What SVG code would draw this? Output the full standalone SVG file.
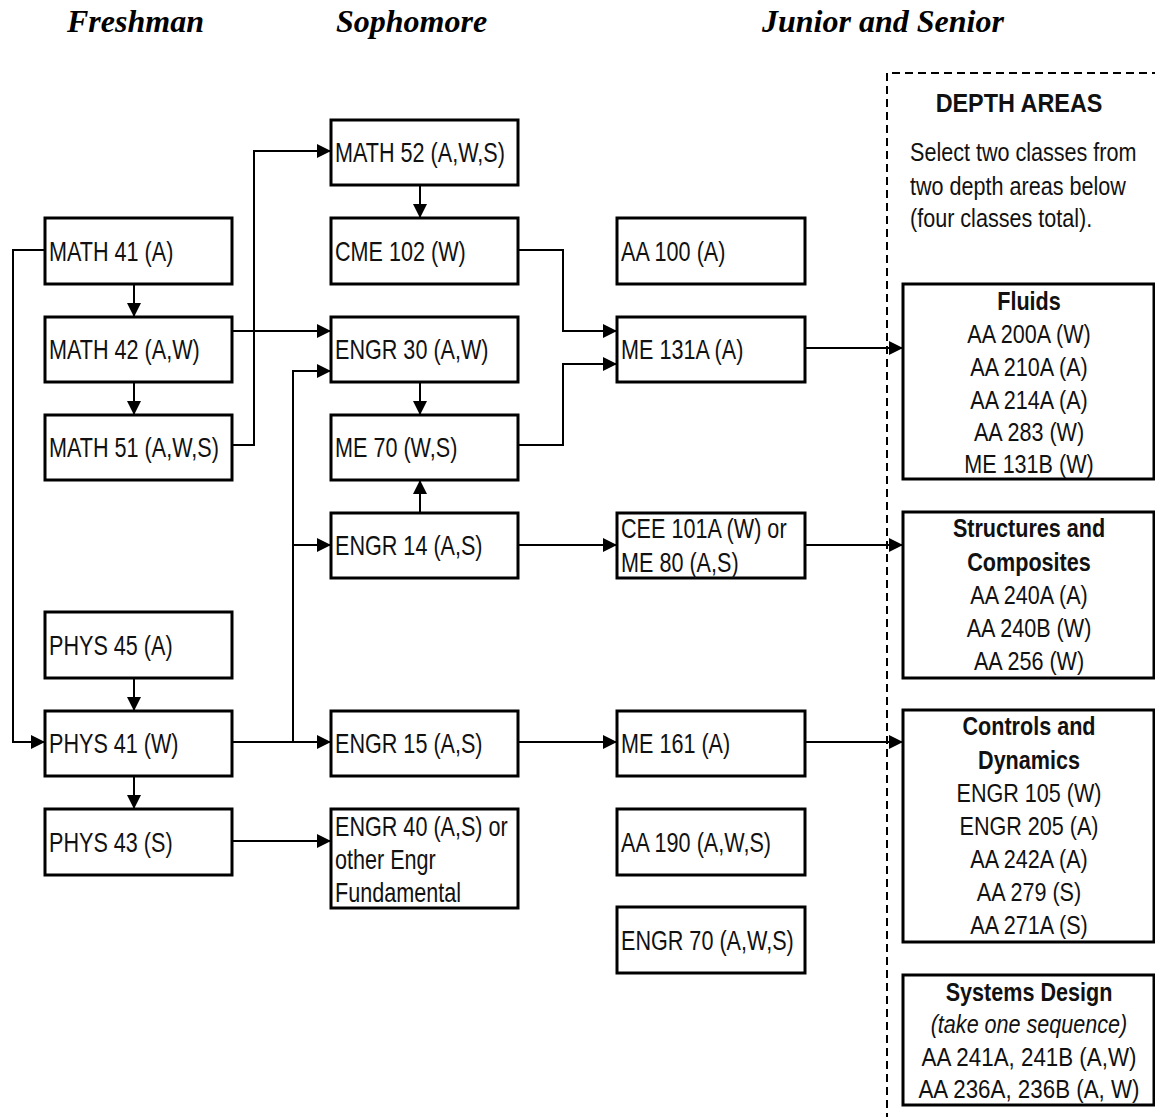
<svg xmlns="http://www.w3.org/2000/svg" width="1155" height="1117" viewBox="0 0 1155 1117">
<style>
.box{fill:#fff;stroke:#000;stroke-width:3}
.c{fill:none;stroke:#000;stroke-width:2}
.t{font-family:"Liberation Sans",Arial,sans-serif;font-size:27px;fill:#111}
.r{font-family:"Liberation Sans",Arial,sans-serif;font-size:26px;fill:#111;text-anchor:middle}
.l{text-anchor:start}
.b{font-weight:bold}
.i{font-style:italic}
.h{font-family:"Liberation Serif","Times New Roman",serif;font-size:32px;font-weight:bold;font-style:italic;fill:#000}
</style>
<defs>
<marker id="ah" markerUnits="userSpaceOnUse" markerWidth="15" markerHeight="14" refX="14" refY="7" orient="auto">
<path d="M0,0 L14,7 L0,14 z" fill="#000"/>
</marker>
</defs>
<rect width="1155" height="1117" fill="#fff"/>

<g id="headers">
<text class="h" x="67" y="32">Freshman</text>
<text class="h" x="336" y="32">Sophomore</text>
<text class="h" x="762" y="32">Junior and Senior</text>
</g>

<g id="connectors">
<path class="c" d="M45,250 H13 V742 H45" marker-end="url(#ah)"/>
<path class="c" d="M134,284 V317" marker-end="url(#ah)"/>
<path class="c" d="M134,382 V415" marker-end="url(#ah)"/>
<path class="c" d="M232,445 H254 V151 H331" marker-end="url(#ah)"/>
<path class="c" d="M232,331 H331" marker-end="url(#ah)"/>
<path class="c" d="M134,678 V711" marker-end="url(#ah)"/>
<path class="c" d="M134,776 V809" marker-end="url(#ah)"/>
<path class="c" d="M232,742 H331" marker-end="url(#ah)"/>
<path class="c" d="M293,742 V371 H331" marker-end="url(#ah)"/>
<path class="c" d="M293,545 H331" marker-end="url(#ah)"/>
<path class="c" d="M232,841 H331" marker-end="url(#ah)"/>
<path class="c" d="M420,185 V218" marker-end="url(#ah)"/>
<path class="c" d="M420,382 V415" marker-end="url(#ah)"/>
<path class="c" d="M420,513 V480" marker-end="url(#ah)"/>
<path class="c" d="M518,250 H563 V331 H617" marker-end="url(#ah)"/>
<path class="c" d="M518,445 H563 V364 H617" marker-end="url(#ah)"/>
<path class="c" d="M518,545 H617" marker-end="url(#ah)"/>
<path class="c" d="M518,742 H617" marker-end="url(#ah)"/>
<path class="c" d="M805,348 H903" marker-end="url(#ah)"/>
<path class="c" d="M805,545 H903" marker-end="url(#ah)"/>
<path class="c" d="M805,742 H903" marker-end="url(#ah)"/>
</g>

<g id="depth-border">
<path d="M1160,73 H887 V1120" fill="none" stroke="#000" stroke-width="2" stroke-dasharray="8,5"/>
<text class="r b" transform="matrix(.9 0 0 1 1019 112)">DEPTH AREAS</text>
<text class="r l" transform="matrix(.83 0 0 1 910 161)">Select two classes from</text>
<text class="r l" transform="matrix(.83 0 0 1 910 195)">two depth areas below</text>
<text class="r l" transform="matrix(.83 0 0 1 910 227)">(four classes total).</text>
</g>

<g id="math41"><rect class="box" x="45" y="218" width="187" height="66"/><text class="t" transform="matrix(.8 0 0 1 49 261)">MATH 41 (A)</text></g>
<g id="math42"><rect class="box" x="45" y="317" width="187" height="65"/><text class="t" transform="matrix(.8 0 0 1 49 359)">MATH 42 (A,W)</text></g>
<g id="math51"><rect class="box" x="45" y="415" width="187" height="65"/><text class="t" transform="matrix(.8 0 0 1 49 457)">MATH 51 (A,W,S)</text></g>
<g id="phys45"><rect class="box" x="45" y="612" width="187" height="66"/><text class="t" transform="matrix(.8 0 0 1 49 655)">PHYS 45 (A)</text></g>
<g id="phys41"><rect class="box" x="45" y="711" width="187" height="65"/><text class="t" transform="matrix(.8 0 0 1 49 753)">PHYS 41 (W)</text></g>
<g id="phys43"><rect class="box" x="45" y="809" width="187" height="66"/><text class="t" transform="matrix(.8 0 0 1 49 852)">PHYS 43 (S)</text></g>

<g id="math52"><rect class="box" x="331" y="120" width="187" height="65"/><text class="t" transform="matrix(.8 0 0 1 335 162)">MATH 52 (A,W,S)</text></g>
<g id="cme102"><rect class="box" x="331" y="218" width="187" height="66"/><text class="t" transform="matrix(.8 0 0 1 335 261)">CME 102 (W)</text></g>
<g id="engr30"><rect class="box" x="331" y="317" width="187" height="65"/><text class="t" transform="matrix(.8 0 0 1 335 359)">ENGR 30 (A,W)</text></g>
<g id="me70"><rect class="box" x="331" y="415" width="187" height="65"/><text class="t" transform="matrix(.8 0 0 1 335 457)">ME 70 (W,S)</text></g>
<g id="engr14"><rect class="box" x="331" y="513" width="187" height="65"/><text class="t" transform="matrix(.8 0 0 1 335 555)">ENGR 14 (A,S)</text></g>
<g id="engr15"><rect class="box" x="331" y="711" width="187" height="65"/><text class="t" transform="matrix(.8 0 0 1 335 753)">ENGR 15 (A,S)</text></g>
<g id="engr40"><rect class="box" x="331" y="809" width="187" height="99"/>
<text class="t" transform="matrix(.8 0 0 1 335 836)">ENGR 40 (A,S) or</text>
<text class="t" transform="matrix(.8 0 0 1 335 869)">other Engr</text>
<text class="t" transform="matrix(.8 0 0 1 335 902)">Fundamental</text></g>

<g id="aa100"><rect class="box" x="617" y="218" width="188" height="66"/><text class="t" transform="matrix(.8 0 0 1 621 261)">AA 100 (A)</text></g>
<g id="me131a"><rect class="box" x="617" y="317" width="188" height="65"/><text class="t" transform="matrix(.8 0 0 1 621 359)">ME 131A (A)</text></g>
<g id="cee101a"><rect class="box" x="617" y="513" width="188" height="65"/>
<text class="t" transform="matrix(.8 0 0 1 621 538)">CEE 101A (W) or</text>
<text class="t" transform="matrix(.8 0 0 1 621 572)">ME 80 (A,S)</text></g>
<g id="me161"><rect class="box" x="617" y="711" width="188" height="65"/><text class="t" transform="matrix(.8 0 0 1 621 753)">ME 161 (A)</text></g>
<g id="aa190"><rect class="box" x="617" y="809" width="188" height="66"/><text class="t" transform="matrix(.8 0 0 1 621 852)">AA 190 (A,W,S)</text></g>
<g id="engr70"><rect class="box" x="617" y="907" width="188" height="66"/><text class="t" transform="matrix(.8 0 0 1 621 950)">ENGR 70 (A,W,S)</text></g>

<g id="fluids"><rect class="box" x="903" y="284" width="251" height="195"/>
<text class="r b" transform="matrix(.83 0 0 1 1029 310)">Fluids</text>
<text class="r" transform="matrix(.83 0 0 1 1029 343)">AA 200A (W)</text>
<text class="r" transform="matrix(.83 0 0 1 1029 376)">AA 210A (A)</text>
<text class="r" transform="matrix(.83 0 0 1 1029 409)">AA 214A (A)</text>
<text class="r" transform="matrix(.83 0 0 1 1029 441)">AA 283 (W)</text>
<text class="r" transform="matrix(.83 0 0 1 1029 473)">ME 131B (W)</text></g>

<g id="structures"><rect class="box" x="903" y="512" width="251" height="166"/>
<text class="r b" transform="matrix(.83 0 0 1 1029 537)">Structures and</text>
<text class="r b" transform="matrix(.83 0 0 1 1029 571)">Composites</text>
<text class="r" transform="matrix(.83 0 0 1 1029 604)">AA 240A (A)</text>
<text class="r" transform="matrix(.83 0 0 1 1029 637)">AA 240B (W)</text>
<text class="r" transform="matrix(.83 0 0 1 1029 670)">AA 256 (W)</text></g>

<g id="controls"><rect class="box" x="903" y="710" width="251" height="232"/>
<text class="r b" transform="matrix(.83 0 0 1 1029 735)">Controls and</text>
<text class="r b" transform="matrix(.83 0 0 1 1029 769)">Dynamics</text>
<text class="r" transform="matrix(.83 0 0 1 1029 802)">ENGR 105 (W)</text>
<text class="r" transform="matrix(.83 0 0 1 1029 835)">ENGR 205 (A)</text>
<text class="r" transform="matrix(.83 0 0 1 1029 868)">AA 242A (A)</text>
<text class="r" transform="matrix(.83 0 0 1 1029 901)">AA 279 (S)</text>
<text class="r" transform="matrix(.83 0 0 1 1029 934)">AA 271A (S)</text></g>

<g id="systems"><rect class="box" x="903" y="975" width="251" height="130"/>
<text class="r b" transform="matrix(.83 0 0 1 1029 1001)">Systems Design</text>
<text class="r i" transform="matrix(.83 0 0 1 1029 1033)">(take one sequence)</text>
<text class="r" transform="matrix(.86 0 0 1 1029 1066)">AA 241A, 241B (A,W)</text>
<text class="r" transform="matrix(.86 0 0 1 1029 1098)">AA 236A, 236B (A, W)</text></g>
</svg>
